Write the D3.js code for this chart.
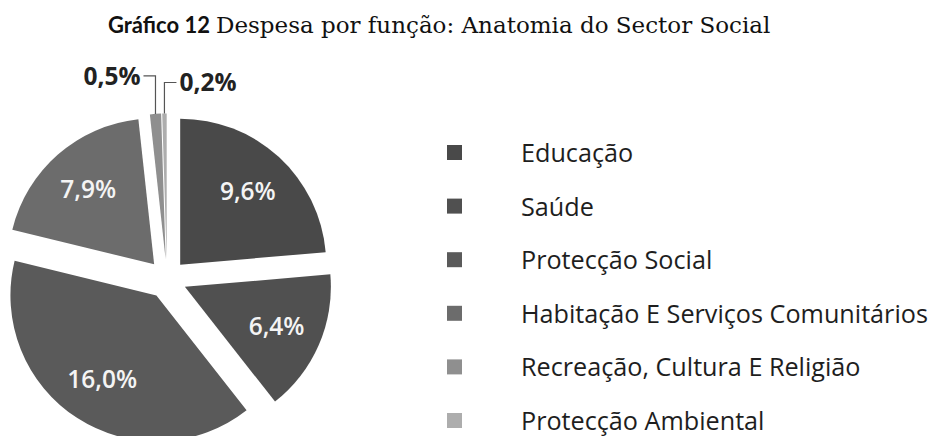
<!DOCTYPE html>
<html>
<head>
<meta charset="utf-8">
<script src="https://cdn.jsdelivr.net/npm/d3@7"></script>
<style>
  html,body{margin:0;padding:0;background:#fff;}
  svg{display:block;}
</style>
</head>
<body>
<div id="chart"></div>
<script>
// data
const categories = ["Educação","Saúde","Protecção Social","Habitação E Serviços Comunitários","Recreação, Cultura E Religião","Protecção Ambiental"];
const values = [9.6, 6.4, 16.0, 7.9, 0.5, 0.2];
const colors = ["#494949","#505050","#5a5a5a","#6c6c6c","#8f8f8f","#adadad"];
const titleBold = "Gráfico 12";
const titleText = "Despesa por função: Anatomia do Sector Social";

const W=933, H=436;
const C={x:167,y:279}, R=146, EXPLODE=19.5;

const ptFmt = d3.formatLocale({decimal:",",thousands:".",grouping:[3],currency:["","€"]}).format(".1f");
const pct = v => ptFmt(v)+"%";

const svg=d3.select("#chart").append("svg").attr("width",W).attr("height",H);

// title
const title=svg.append("text").attr("x",108).attr("y",33).attr("fill","#111");
title.append("tspan").attr("font-family","Lato, sans-serif").attr("font-weight",700).attr("font-size",22).text(titleBold);
title.append("tspan").attr("dx",6).attr("font-family","'DejaVu Serif', serif").attr("font-size",23).text(titleText);

// pie
const pie=d3.pie().sort(null).value(d=>d.v).startAngle(0).endAngle(2*Math.PI);
const arcs=pie(values.map((v,i)=>({v,i})));
const arc=d3.arc().innerRadius(0).outerRadius(R);

const mid=a=>(a.startAngle+a.endAngle)/2;
const off=(a,k)=>[Math.sin(mid(a))*k, -Math.cos(mid(a))*k];

const g=svg.append("g").attr("transform",`translate(${C.x},${C.y})`);
const slices=g.selectAll("g.slice").data(arcs).join("g").attr("class","slice")
  .attr("transform",a=>{const [dx,dy]=off(a,EXPLODE);return `translate(${dx},${dy})`;});

slices.append("path").attr("d",arc).attr("fill",a=>colors[a.index]);

// inside labels for larger slices
slices.filter(a=>a.data.v>=1).append("text")
  .attr("x",a=>off(a,R*0.685)[0]).attr("y",a=>off(a,R*0.685)[1])
  .attr("dy","0.36em").attr("text-anchor","middle")
  .attr("font-family","'Open Sans', sans-serif").attr("font-weight",600).attr("font-size",24.5)
  .attr("fill","#f4f4f4").text(a=>pct(a.data.v));

// outside labels with elbow leader lines for tiny slices
const sides=[-1,1], rises=[38,31];
slices.filter(a=>a.data.v<1).each(function(a,j){
  const s=d3.select(this);
  const [px,py]=off(a,R);
  const ey=py-rises[j], ex=px+sides[j]*12;
  s.append("polyline").attr("points",`${px},${py} ${px},${ey} ${ex},${ey}`)
    .attr("fill","none").attr("stroke","#555").attr("stroke-width",1.2);
  s.append("text").attr("x",ex+sides[j]*3).attr("y",ey).attr("dy","0.36em")
    .attr("text-anchor",sides[j]<0?"end":"start")
    .attr("font-family","'Open Sans', sans-serif").attr("font-weight",700).attr("font-size",24.5)
    .attr("fill","#222").text(pct(a.data.v));
});

// legend
const ly=d3.scalePoint().domain(categories).range([153,421]);
const leg=svg.append("g").selectAll("g").data(categories).join("g")
  .attr("transform",d=>`translate(0,${ly(d)})`);
leg.append("rect").attr("x",447).attr("y",-8).attr("width",15).attr("height",15)
  .attr("fill",(d,i)=>colors[i]);
leg.append("text").attr("x",521).attr("y",0).attr("dy","0.36em")
  .attr("font-family","'Open Sans', sans-serif").attr("font-size",25.2).attr("fill","#1e1e1e")
  .text(d=>d);
</script>
</body>
</html>
